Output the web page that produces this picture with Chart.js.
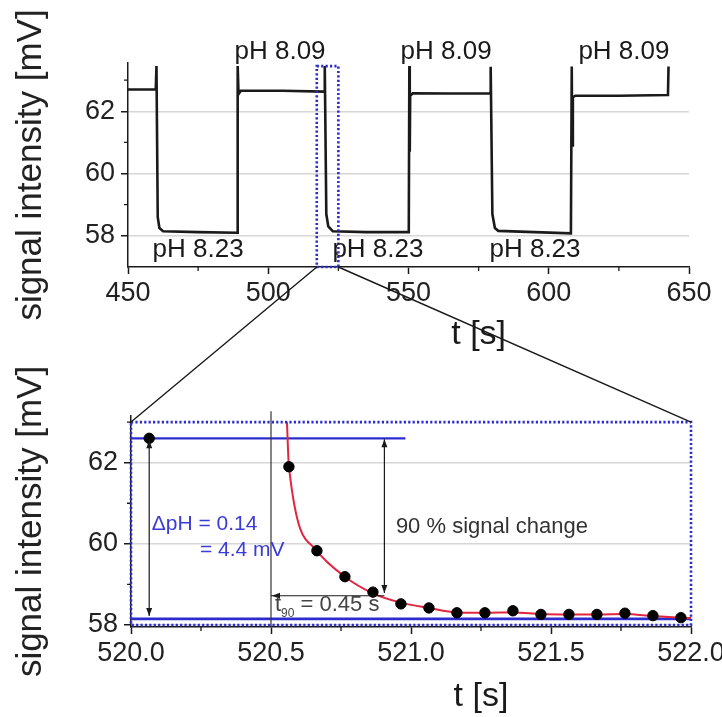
<!DOCTYPE html>
<html><head><meta charset="utf-8">
<script src="https://cdn.jsdelivr.net/npm/chart.js@4.4.1/dist/chart.umd.min.js"></script>
<style>
html,body{margin:0;padding:0;background:#fff;}
#wrap{position:relative;width:722px;height:717px;overflow:hidden;background:#fff;}
canvas{position:absolute;left:0;}
#c1{top:0;} #c2{top:360px;} #ov{top:0;pointer-events:none;}
</style></head><body>
<div id="wrap">
<canvas id="c1" width="722" height="360"></canvas>
<canvas id="c2" width="722" height="357"></canvas>
<canvas id="ov" width="722" height="717"></canvas>
</div>
<script>
// ---------- data: overview trace (top panel) ----------
const overviewTime = [450, 459.9, 460.15, 460.6, 461.2, 462.5, 475, 488.9, 489.1, 489.4, 490.2, 505, 519.9,
  520.15, 520.7, 521.4, 523, 535, 550.1, 550.3, 550.45, 550.6, 551.5, 565, 579.1, 579.3, 579.9, 580.8, 582,
  595, 607.9, 608.2, 608.35, 608.6, 609.5, 625, 642.5, 642.7];
const overviewSignal = [62.70, 62.70, 63.45, 58.6, 58.25, 58.15, 58.12, 58.10, 63.45, 62.55, 62.66, 62.66, 62.63,
  63.45, 58.7, 58.3, 58.15, 58.12, 58.12, 63.45, 60.7, 62.5, 62.58, 62.57, 62.58, 63.43, 58.7, 58.25, 58.16,
  58.12, 58.08, 63.44, 60.9, 62.45, 62.5, 62.5, 62.52, 63.44];
const overviewXTicks = [450, 500, 550, 600, 650];
const overviewYTicks = [58, 60, 62];
const highLabels = ['pH 8.09', 'pH 8.09', 'pH 8.09'];
const lowLabels = ['pH 8.23', 'pH 8.23', 'pH 8.23'];

// ---------- data: zoomed step (bottom panel) ----------
const zoomTime = [520.564, 520.664, 520.764, 520.864, 520.964, 521.064, 521.164, 521.264, 521.364,
  521.464, 521.564, 521.664, 521.764, 521.864, 521.964];
const zoomSignal = [61.90, 59.83, 59.19, 58.81, 58.52, 58.42, 58.30, 58.30, 58.35,
  58.26, 58.26, 58.26, 58.29, 58.23, 58.18];
const fitTime = [520.557, 520.564, 520.664, 520.764, 520.864, 520.964, 521.064, 521.164, 521.264, 521.364,
  521.464, 521.564, 521.664, 521.764, 521.864, 521.964, 522.0];
const fitSignal = [63.0, 61.90, 59.83, 59.19, 58.78, 58.55, 58.42, 58.31, 58.30, 58.31,
  58.27, 58.26, 58.26, 58.27, 58.22, 58.18, 58.17];
const startTime = [520.065];
const startSignal = [62.6];
const zoomXTicks = [520.0, 520.5, 521.0, 521.5, 522.0];
const zoomYTicks = [58, 60, 62];
const levelHigh = 62.6;
const levelLow = 58.15;
const t90Begin = 520.5;
const t90End = 520.905;
const level90 = 58.79;

// ---------- styles ----------
const F = '"Liberation Sans", Arial, Helvetica, sans-serif';
const INK = '#1a1a1a';
const BLUE = '#2d2dcf';
const RED = '#e2263f';
const GRID = '#d6d6d6';

function pts(xs, ys) { return xs.map((x, i) => ({x: x, y: ys[i]})); }

function minorTicks(chart, xs, ys, len) {
  const c = chart.ctx, sx = chart.scales.x, sy = chart.scales.y;
  c.save(); c.strokeStyle = INK; c.lineWidth = 1.3; c.beginPath();
  xs.forEach(v => { const p = sx.getPixelForValue(v); c.moveTo(p, sx.top); c.lineTo(p, sx.top + len); });
  ys.forEach(v => { const p = sy.getPixelForValue(v); c.moveTo(sy.right, p); c.lineTo(sy.right - len, p); });
  c.stroke(); c.restore();
}
function xTitle(chart, text, atValue, fromBottom) {
  const c = chart.ctx; c.save();
  c.font = '34px ' + F; c.fillStyle = INK; c.textAlign = 'center'; c.textBaseline = 'middle';
  c.fillText(text, chart.scales.x.getPixelForValue(atValue), chart.height - fromBottom);
  c.restore();
}
function dottedRect(c, x0, y0, x1, y1) {
  c.save(); c.strokeStyle = BLUE; c.lineWidth = 2.6; c.setLineDash([2.2, 2.2]);
  c.strokeRect(x0, y0, x1 - x0, y1 - y0); c.restore();
}
function head(c, x, y, dir, L, W) {
  c.beginPath();
  if (dir === 'up') { c.moveTo(x, y); c.lineTo(x - W, y + L); c.lineTo(x + W, y + L); }
  if (dir === 'down') { c.moveTo(x, y); c.lineTo(x - W, y - L); c.lineTo(x + W, y - L); }
  if (dir === 'left') { c.moveTo(x, y); c.lineTo(x + L, y - W); c.lineTo(x + L, y + W); }
  c.closePath(); c.fill();
}

const zoomBoxTop = {x0: 517.3, x1: 525.0, y0: 57.0, y1: 63.45};

// ---------- top chart ----------
const topPlugin = {
  id: 'topDeco',
  afterDatasetsDraw(chart) {
    const c = chart.ctx, sx = chart.scales.x, sy = chart.scales.y;
    dottedRect(c, sx.getPixelForValue(zoomBoxTop.x0), sy.getPixelForValue(zoomBoxTop.y1),
      sx.getPixelForValue(zoomBoxTop.x1), sy.getPixelForValue(zoomBoxTop.y0));
    c.save(); c.font = '26px ' + F; c.fillStyle = INK; c.textAlign = 'center'; c.textBaseline = 'middle';
    const hx = [504.2, 563.4, 626.8], lx = [475.0, 539.1, 595.1];
    highLabels.forEach((t, i) => c.fillText(t, sx.getPixelForValue(hx[i]), sy.getPixelForValue(63.92)));
    lowLabels.forEach((t, i) => c.fillText(t, sx.getPixelForValue(lx[i]), sy.getPixelForValue(57.55)));
    c.restore();
  },
  afterDraw(chart) {
    minorTicks(chart, [475, 525, 575, 625], [59, 61, 63], 4);
    xTitle(chart, 't [s]', 575, 25);
  }
};

function axisCommon(ticksArr, fmt) {
  return {
    afterBuildTicks: s => { s.ticks = ticksArr.map(v => ({value: v})); },
    border: {color: INK, width: 1.5},
    ticks: {font: {family: F, size: 27, lineHeight: 1}, color: '#222', padding: 6, autoSkip: false, maxRotation: 0,
      callback: fmt || (v => v)}
  };
}

const chart1 = new Chart(document.getElementById('c1'), {
  type: 'scatter',
  data: {datasets: [{label: 'signal', data: pts(overviewTime, overviewSignal), showLine: true,
    borderColor: INK, borderWidth: 2.6, pointRadius: 0, tension: 0, fill: false}]},
  options: {
    responsive: false, animation: false, devicePixelRatio: 1,
    layout: {padding: {left: 0, right: 33, top: 63, bottom: 0}},
    plugins: {legend: {display: false}, tooltip: {enabled: false}},
    scales: {
      x: Object.assign(axisCommon(overviewXTicks), {type: 'linear', min: 450, max: 650,
        afterFit: s => { s.height = 93; s.paddingLeft = 0; s.paddingRight = 0; },
        grid: {drawOnChartArea: false, drawTicks: true, tickLength: 7, tickColor: INK, tickWidth: 1.5}}),
      y: Object.assign(axisCommon(overviewYTicks), {type: 'linear', min: 57, max: 63.55,
        afterFit: s => { s.width = 128; s.paddingTop = 0; s.paddingBottom = 0; },
        grid: {color: GRID, lineWidth: 1.5, tickColor: INK, tickLength: 7, tickWidth: 1.5},
        title: {display: true, text: 'signal intensity [mV]', font: {family: F, size: 35}, color: '#222',
          padding: {top: 10, bottom: 0}}})
    }
  },
  plugins: [topPlugin]
});

// ---------- bottom chart ----------
const botPlugin = {
  id: 'botDeco',
  beforeDatasetsDraw(chart) {
    const c = chart.ctx, sx = chart.scales.x, sy = chart.scales.y;
    c.save();
    c.strokeStyle = BLUE; c.lineWidth = 2.2;
    c.beginPath();
    c.moveTo(sx.getPixelForValue(520.0), sy.getPixelForValue(levelHigh));
    c.lineTo(sx.getPixelForValue(520.98), sy.getPixelForValue(levelHigh));
    c.stroke();
    c.lineWidth = 2.6; c.beginPath();
    c.moveTo(sx.getPixelForValue(520.0), sy.getPixelForValue(levelLow));
    c.lineTo(sx.getPixelForValue(522.0), sy.getPixelForValue(levelLow));
    c.stroke();
    c.strokeStyle = '#333'; c.lineWidth = 1.2; c.beginPath();
    c.moveTo(sx.getPixelForValue(t90Begin), sy.getPixelForValue(57.95));
    c.lineTo(sx.getPixelForValue(t90Begin), sy.getPixelForValue(63.27));
    c.stroke();
    c.restore();
  },
  afterDatasetsDraw(chart) {
    const c = chart.ctx, sx = chart.scales.x, sy = chart.scales.y;
    c.save(); c.strokeStyle = INK; c.fillStyle = INK; c.lineWidth = 1.2;
    // delta arrow
    const ax = sx.getPixelForValue(startTime[0]);
    const aTop = sy.getPixelForValue(levelHigh) + 2, aBot = sy.getPixelForValue(levelLow) - 3;
    c.beginPath(); c.moveTo(ax, aTop); c.lineTo(ax, aBot); c.stroke();
    head(c, ax, aTop, 'up', 8, 3); head(c, ax, aBot, 'down', 8, 3);
    // 90 % arrow
    const bx = sx.getPixelForValue(t90End);
    const bTop = sy.getPixelForValue(levelHigh) + 1, bBot = sy.getPixelForValue(level90);
    c.beginPath(); c.moveTo(bx, bTop); c.lineTo(bx, bBot); c.stroke();
    head(c, bx, bTop, 'up', 8, 3); head(c, bx, bBot, 'down', 8, 3);
    // t90 arrow
    const ty = sy.getPixelForValue(58.72);
    const tx0 = sx.getPixelForValue(t90Begin), tx1 = sx.getPixelForValue(t90End);
    c.beginPath(); c.moveTo(tx0, ty); c.lineTo(tx1, ty); c.stroke();
    head(c, tx0 + 1, ty, 'left', 8, 3);
    // texts
    c.textBaseline = 'middle'; c.textAlign = 'left';
    c.fillStyle = '#333'; c.font = '22px ' + F;
    c.fillText('90 % signal change', sx.getPixelForValue(520.946), sy.getPixelForValue(60.42));
    c.fillStyle = '#3b3bd8'; c.font = '21px ' + F;
    c.fillText('\u0394pH = 0.14', sx.getPixelForValue(520.074), sy.getPixelForValue(60.48));
    c.fillText('= 4.4 mV', sx.getPixelForValue(520.246), sy.getPixelForValue(59.85));
    c.fillStyle = '#444'; c.font = '22px ' + F;
    let px = sx.getPixelForValue(520.514), py = sy.getPixelForValue(58.49);
    c.fillText('t', px, py);
    const tw = c.measureText('t').width;
    c.font = '12px ' + F; c.fillText('90', px + tw, py + 9);
    const sw = c.measureText('90').width;
    c.font = '22px ' + F; c.fillText(' = 0.45 s', px + tw + sw, py);
    c.restore();
  },
  afterDraw(chart) {
    const c = chart.ctx, sx = chart.scales.x, sy = chart.scales.y;
    minorTicks(chart, [520.25, 520.75, 521.25, 521.75], [59, 61, 63], 4);
    dottedRect(c, sx.getPixelForValue(520.0), sy.getPixelForValue(63.0),
      sx.getPixelForValue(522.0), sy.getPixelForValue(58.0));
    xTitle(chart, 't [s]', 521.25, 20);
  }
};

const chart2 = new Chart(document.getElementById('c2'), {
  type: 'scatter',
  data: {datasets: [
    {label: 'measured', data: pts(zoomTime, zoomSignal), pointRadius: 5.2, pointBackgroundColor: '#000',
      pointBorderColor: '#000', showLine: false},
    {label: 'start', data: pts(startTime, startSignal), pointRadius: 5.2, pointBackgroundColor: '#000',
      pointBorderColor: '#000', showLine: false},
    {label: 'fit', data: pts(fitTime, fitSignal), showLine: true, borderColor: RED, borderWidth: 2,
      pointRadius: 0, cubicInterpolationMode: 'monotone', fill: false}
  ]},
  options: {
    responsive: false, animation: false, devicePixelRatio: 1,
    layout: {padding: {left: 0, right: 31, top: 56, bottom: 0}},
    plugins: {legend: {display: false}, tooltip: {enabled: false}},
    scales: {
      x: Object.assign(axisCommon(zoomXTicks, v => Number(v).toFixed(1)), {type: 'linear', min: 520, max: 522,
        afterFit: s => { s.height = 90; s.paddingLeft = 0; s.paddingRight = 0; },
        grid: {drawOnChartArea: false, drawTicks: true, tickLength: 7, tickColor: INK, tickWidth: 1.5}}),
      y: Object.assign(axisCommon(zoomYTicks), {type: 'linear', min: 57.95, max: 63.15,
        afterFit: s => { s.width = 131; s.paddingTop = 0; s.paddingBottom = 0; },
        grid: {color: GRID, lineWidth: 1.5, tickColor: INK, tickLength: 7, tickWidth: 1.5},
        title: {display: true, text: 'signal intensity [mV]', font: {family: F, size: 35}, color: '#222',
          padding: {top: 10, bottom: 0}}})
    }
  },
  plugins: [botPlugin]
});

// ---------- connector lines between the panels ----------
(function () {
  const o = document.getElementById('ov').getContext('2d');
  const off2 = 360;
  const a = chart1.scales, b = chart2.scales;
  o.strokeStyle = INK; o.lineWidth = 1.4;
  o.beginPath();
  o.moveTo(a.x.getPixelForValue(zoomBoxTop.x0), a.y.getPixelForValue(zoomBoxTop.y0));
  o.lineTo(b.x.getPixelForValue(520.0), off2 + b.y.getPixelForValue(63.0));
  o.moveTo(a.x.getPixelForValue(zoomBoxTop.x1), a.y.getPixelForValue(zoomBoxTop.y0));
  o.lineTo(b.x.getPixelForValue(522.0), off2 + b.y.getPixelForValue(63.0));
  o.stroke();
})();
</script>
</body></html>
